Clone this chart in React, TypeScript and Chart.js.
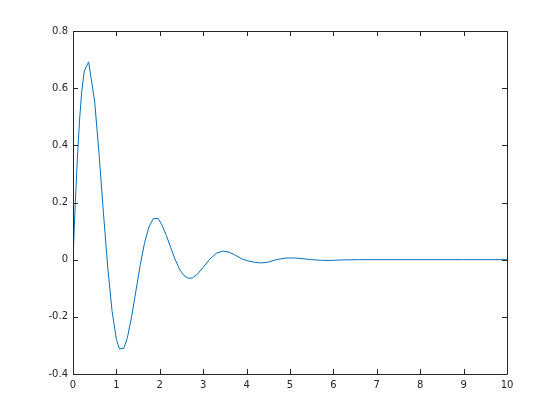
import React, { useEffect, useRef } from "react";
import { Chart, registerables } from "chart.js";

Chart.register(...registerables);

const tValues = [
  0, 0.05, 0.1, 0.15, 0.2, 0.26, 0.36, 0.5, 0.6, 0.7, 0.8, 0.9, 1.0,
  1.07, 1.17, 1.25, 1.35, 1.45, 1.55, 1.65, 1.75, 1.85, 1.96, 2.05, 2.15,
  2.25, 2.35, 2.45, 2.55, 2.65, 2.75, 2.85, 3.0, 3.15, 3.3, 3.45, 3.6, 3.75,
  3.9, 4.05, 4.2, 4.35, 4.5, 4.7, 4.9, 5.1, 5.3, 5.5, 5.7, 5.9, 6.2, 6.6, 7,
  8, 9, 10,
];
const yValues = [
  0, 0.189, 0.352, 0.486, 0.587, 0.66, 0.692, 0.552, 0.371,
  0.166, -0.026, -0.18, -0.279, -0.312, -0.31, -0.275, -0.2, -0.109, -0.018,
  0.06, 0.114, 0.144, 0.144, 0.121, 0.085, 0.043, 0.002, -0.032,
  -0.055, -0.065, -0.064, -0.053, -0.027, 0.0015, 0.022, 0.03, 0.026, 0.015,
  0.002, -0.005, -0.0096, -0.0115, -0.0083, 0.0005, 0.0056, 0.0061, 0.0032,
  0, -0.002, -0.0027, -0.001, 0, 0, 0, 0, 0,
];

const xTickValues = [0, 1, 2, 3, 4, 5, 6, 7, 8, 9, 10];
const yTickValues = [-0.4, -0.2, 0, 0.2, 0.4, 0.6, 0.8];
const yTickLabels = ["-0.4", "-0.2", "0", "0.2", "0.4", "0.6", "0.8"];

const AXIS_COLOR = "#262626";
const LINE_COLOR = "#0072BD";

const boxPlugin = {
  id: "matlabBox",
  afterDraw(chart: any) {
    const { ctx, chartArea, scales } = chart;
    const { left, right, top, bottom } = chartArea;
    const tl = 5;
    ctx.save();
    ctx.strokeStyle = AXIS_COLOR;
    ctx.lineWidth = 1;
    ctx.beginPath();
    xTickValues.forEach((v) => {
      const px = Math.round(scales.x.getPixelForValue(v)) + 0.5;
      ctx.moveTo(px, bottom);
      ctx.lineTo(px, bottom - tl);
      ctx.moveTo(px, top);
      ctx.lineTo(px, top + tl);
    });
    yTickValues.forEach((v) => {
      const py = Math.round(scales.y.getPixelForValue(v)) + 0.5;
      ctx.moveTo(left, py);
      ctx.lineTo(left + tl, py);
      ctx.moveTo(right, py);
      ctx.lineTo(right - tl, py);
    });
    ctx.stroke();
    ctx.beginPath();
    ctx.rect(Math.round(left) + 0.5, Math.round(top) + 0.5, Math.round(right - left), Math.round(bottom - top));
    ctx.stroke();
    ctx.restore();
  },
};

export default function App() {
  const canvasRef = useRef<HTMLCanvasElement | null>(null);

  useEffect(() => {
    const canvas = canvasRef.current;
    if (!canvas) return;
    const data = tValues.map((t, i) => ({ x: t, y: yValues[i] }));
    const chart = new Chart(canvas, {
      type: "scatter",
      data: {
        datasets: [
          {
            data,
            showLine: true,
            borderColor: LINE_COLOR,
            backgroundColor: LINE_COLOR,
            borderWidth: 1,
            pointRadius: 0,
            pointHoverRadius: 0,
            tension: 0,
            fill: false,
          },
        ],
      },
      options: {
        animation: false,
        responsive: false,
        devicePixelRatio: 1,
        events: [],
        layout: { padding: { top: 31, right: 53, left: 0, bottom: 0 } },
        plugins: { legend: { display: false }, tooltip: { enabled: false } },
        scales: {
          x: {
            type: "linear",
            min: 0,
            max: 10,
            afterFit: (s: any) => {
              s.height = 46;
            },
            afterBuildTicks: (s: any) => {
              s.ticks = xTickValues.map((v) => ({ value: v }));
            },
            grid: { display: false, drawTicks: false },
            border: { display: false },
            ticks: {
              padding: 5,
              color: AXIS_COLOR,
              font: { family: "DejaVu Sans", size: 10 },
              maxRotation: 0,
              callback: (v: any) => String(v),
            },
          },
          y: {
            type: "linear",
            min: -0.4,
            max: 0.8,
            afterFit: (s: any) => {
              s.width = 73;
            },
            afterBuildTicks: (s: any) => {
              s.ticks = yTickValues.map((v) => ({ value: v }));
            },
            grid: { display: false, drawTicks: false },
            border: { display: false },
            ticks: {
              padding: 5,
              color: AXIS_COLOR,
              font: { family: "DejaVu Sans", size: 10 },
              callback: (v: any) => {
                const i = yTickValues.findIndex((t) => Math.abs(t - v) < 1e-9);
                return i >= 0 ? yTickLabels[i] : "";
              },
            },
          },
        },
      },
      plugins: [boxPlugin],
    });
    return () => chart.destroy();
  }, []);

  return (
    <div style={{ position: "absolute", left: 0, top: 0, width: 560, height: 420, background: "#fff" }}>
      <canvas ref={canvasRef} width={560} height={420} style={{ width: 560, height: 420 }} />
    </div>
  );
}
